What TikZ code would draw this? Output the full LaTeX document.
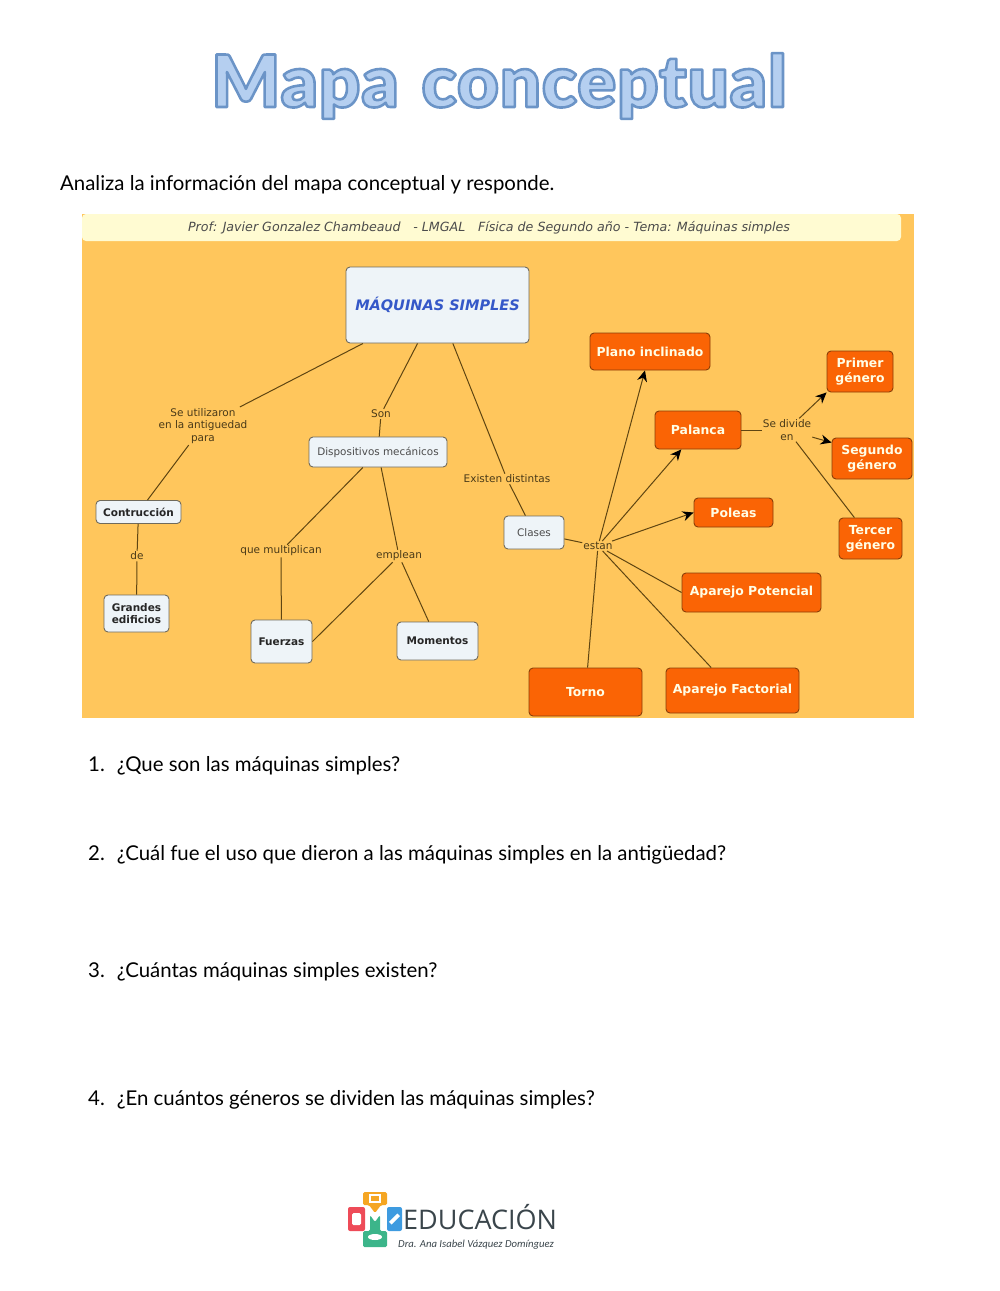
\documentclass[tikz,border=0pt]{standalone}
\usepackage{fontspec}
\usetikzlibrary{arrows.meta}
\setmainfont{Lato}
\newfontfamily\mapfont{DejaVu Sans}
\newfontfamily\titlefont[LetterSpace=1.4,WordSpace=1.3]{Lato Black}
\newfontfamily\subfont[ItalicFont={Carlito Italic}]{Carlito}
\newfontfamily\logofont{Open Sans}
\definecolor{panelorange}{HTML}{FFC65C}
\definecolor{barcream}{HTML}{FFFBD2}
\definecolor{boxfill}{HTML}{EEF4F8}
\definecolor{boxedge}{HTML}{6F6A5C}
\definecolor{nodeorange}{HTML}{FA6405}
\definecolor{orangeedge}{HTML}{8A3F08}
\definecolor{linkline}{HTML}{5F4512}
\definecolor{linktext}{HTML}{4A3A18}
\definecolor{mainblue}{HTML}{3558C8}
\definecolor{logored}{HTML}{EE4B58}
\definecolor{logoorange}{HTML}{F5A623}
\definecolor{logoblue}{HTML}{3E9BE0}
\definecolor{logogreen}{HTML}{3CB58A}
\definecolor{logotext}{HTML}{3A454B}
\tikzset{
  lightbox/.style={draw=boxedge,fill=boxfill,line width=0.9pt,rounded corners=4pt,inner sep=0pt,align=center,text=black!85,font=\mapfont\bfseries\fontsize{10.5}{12.5}\selectfont},
  lightplain/.style={lightbox,font=\mapfont\fontsize{10.4}{12}\selectfont,text=black!70},
  orangebox/.style={draw=orangeedge,fill=nodeorange,line width=0.9pt,rounded corners=4pt,inner sep=0pt,align=center,text=white!90!yellow,font=\mapfont\bfseries\fontsize{12.4}{15}\selectfont},
  linker/.style={inner sep=1pt,align=center,text=linktext,font=\mapfont\fontsize{10.5}{12.8}\selectfont},
  conn/.style={draw=linkline,line width=1pt},
  arrowconn/.style={conn,-{Stealth[length=11pt,width=10pt,color=black]}},
  question/.style={anchor=base west,inner sep=0pt,font=\fontsize{20.4}{24}\selectfont,text=black},
  logotile/.style={rounded corners=2pt,draw=none}
}
\begin{document}
\begin{tikzpicture}[x=1pt,y=-1pt]
\useasboundingbox (0,0) rectangle (1000,1291);
% title
\node[anchor=base,inner sep=0pt,font=\titlefont\fontsize{72}{80}\selectfont] (title) at (499,107)
  {\special{pdf:code q 2 Tr 1 j 2.6 w 0.42 0.58 0.78 RG 0.71 0.81 0.94 rg}Mapa conceptual\special{pdf:code Q}};
\node[question] (intro) at (60,190) {Analiza la información del mapa conceptual y responde.};
% panel
\fill[panelorange] (82,214) rectangle (914,718);
\fill[barcream,rounded corners=4pt] (82,214) rectangle (901,241);
\node[inner sep=0pt,text=black!70,font=\mapfont\itshape\fontsize{12.65}{14}\selectfont] (bar) at (489,228)
  {Prof: Javier Gonzalez Chambeaud\quad - LMGAL\quad Física de Segundo año - Tema: Máquinas simples};
% concepts
\node[lightbox,minimum width=183pt,minimum height=76pt,text=mainblue,font=\mapfont\bfseries\itshape\fontsize{14.5}{17}\selectfont] (main) at (437.5,305) {MÁQUINAS SIMPLES};
\node[lightplain,minimum width=138pt,minimum height=30pt] (disp) at (378,452) {Dispositivos mecánicos};
\node[lightbox,minimum width=85pt,minimum height=23pt] (constr) at (138.5,512) {Contrucción};
\node[lightbox,minimum width=65pt,minimum height=37pt] (edif) at (136.5,613.5) {Grandes\\edificios};
\node[lightbox,minimum width=61pt,minimum height=43pt] (fuerzas) at (281.5,641.5) {Fuerzas};
\node[lightbox,minimum width=81pt,minimum height=38pt] (momentos) at (437.5,641) {Momentos};
\node[lightplain,minimum width=60pt,minimum height=33pt] (clases) at (534,532.5) {Clases};
\node[orangebox,minimum width=120pt,minimum height=37pt] (plano) at (650,351.5) {Plano inclinado};
\node[orangebox,minimum width=86pt,minimum height=38pt] (palanca) at (698,430) {Palanca};
\node[orangebox,minimum width=79pt,minimum height=29pt] (poleas) at (733.5,512.5) {Poleas};
\node[orangebox,minimum width=139pt,minimum height=39pt] (potencial) at (751.5,592.5) {Aparejo Potencial};
\node[orangebox,minimum width=113pt,minimum height=48pt] (torno) at (585.5,692) {Torno};
\node[orangebox,minimum width=133pt,minimum height=45pt] (factorial) at (732.5,690.5) {Aparejo Factorial};
\node[orangebox,minimum width=66pt,minimum height=41pt] (primer) at (860,371.5) {Primer\\género};
\node[orangebox,minimum width=80pt,minimum height=41pt] (segundo) at (872,458.5) {Segundo\\género};
\node[orangebox,minimum width=63pt,minimum height=41pt] (tercer) at (870.5,538.5) {Tercer\\género};
% linking phrases
\node[linker] (lant) at (203,426) {Se utilizaron\\en la antiguedad\\para};
\node[linker] (lson) at (381,414) {Son};
\node[linker] (lexi) at (507,479) {Existen distintas};
\node[linker] (lde) at (137,556) {de};
\node[linker] (lmul) at (281,551) {que multiplican};
\node[linker] (lemp) at (399,556) {emplean};
\node[linker] (lest) at (598,546) {estan};
\node[linker] (ldiv) at (787,430) {Se divide\\en};
% connectors
\draw[conn] (main) -- (lant);
\draw[conn] (lant) -- (constr);
\draw[conn] (constr) -- (lde);
\draw[conn] (lde) -- (edif);
\draw[conn] (main) -- (lson);
\draw[conn] (lson) -- (disp);
\draw[conn] (disp) -- (lmul);
\draw[conn] (lmul) -- (fuerzas);
\draw[conn] (disp) -- (lemp);
\draw[conn] (lemp) -- (fuerzas.east);
\draw[conn] (lemp) -- (momentos);
\draw[conn] (main) -- (lexi);
\draw[conn] (lexi) -- (clases);
\draw[conn] (clases) -- (lest);
\draw[arrowconn] (lest) -- (plano);
\draw[arrowconn] (lest) -- (palanca);
\draw[arrowconn] (lest) -- (poleas.west);
\draw[conn] (lest) -- (potencial.west);
\draw[conn] (lest) -- (factorial);
\draw[conn] (lest) -- (torno);
\draw[conn] (palanca) -- (ldiv);
\draw[arrowconn] (ldiv) -- (primer.south west);
\draw[arrowconn] (ldiv) -- ([yshift=-5pt]segundo.north west);
\draw[conn] (ldiv) -- (tercer);
% questions
\node[question] (q1) at (88,771) {1.\hspace{12pt}¿Que son las máquinas simples?};
\node[question] (q2) at (88,860) {2.\hspace{12pt}¿Cuál fue el uso que dieron a las máquinas simples en la antigüedad?};
\node[question] (q3) at (88,977) {3.\hspace{12pt}¿Cuántas máquinas simples existen?};
\node[question] (q4) at (88,1105) {4.\hspace{12pt}¿En cuántos géneros se dividen las máquinas simples?};
% logo
\fill[logotile,logored] (348,1207) rectangle (365,1231);
\fill[logotile,logoblue] (387,1207) rectangle (402,1231);
\fill[logoorange,rounded corners=1.5pt] (363,1192) -- (387,1192) -- (387,1205) -- (381,1205) -- (375,1213) -- (369,1205) -- (363,1205) -- cycle;
\fill[logogreen,rounded corners=1.5pt] (363,1247) -- (387,1247) -- (387,1231) -- (380,1231) -- (380,1215) -- (375,1222) -- (370,1215) -- (370,1231) -- (363,1231) -- cycle;
\fill[white,rounded corners=1.5pt] (352,1213) rectangle (361,1225);
\draw[white,line width=1.3pt] (370,1195) rectangle (380,1202);
\fill[white,rotate around={45:(394.5,1219)}] (388.5,1217.2) rectangle (400.5,1220.8);
\fill[white] (375,1237) ellipse [x radius=7pt,y radius=3pt];
\node[anchor=base west,inner sep=0pt,text=logotext,font=\logofont\fontsize{27}{27}\selectfont] (logotxt) at (403,1229) {EDUCACIÓN};
\node[anchor=base west,inner sep=0pt,text=logotext,font=\subfont\itshape\fontsize{10.7}{12}\selectfont] (logosub) at (398,1247) {Dra. Ana Isabel Vázquez Domínguez};
\end{tikzpicture}
\end{document}
